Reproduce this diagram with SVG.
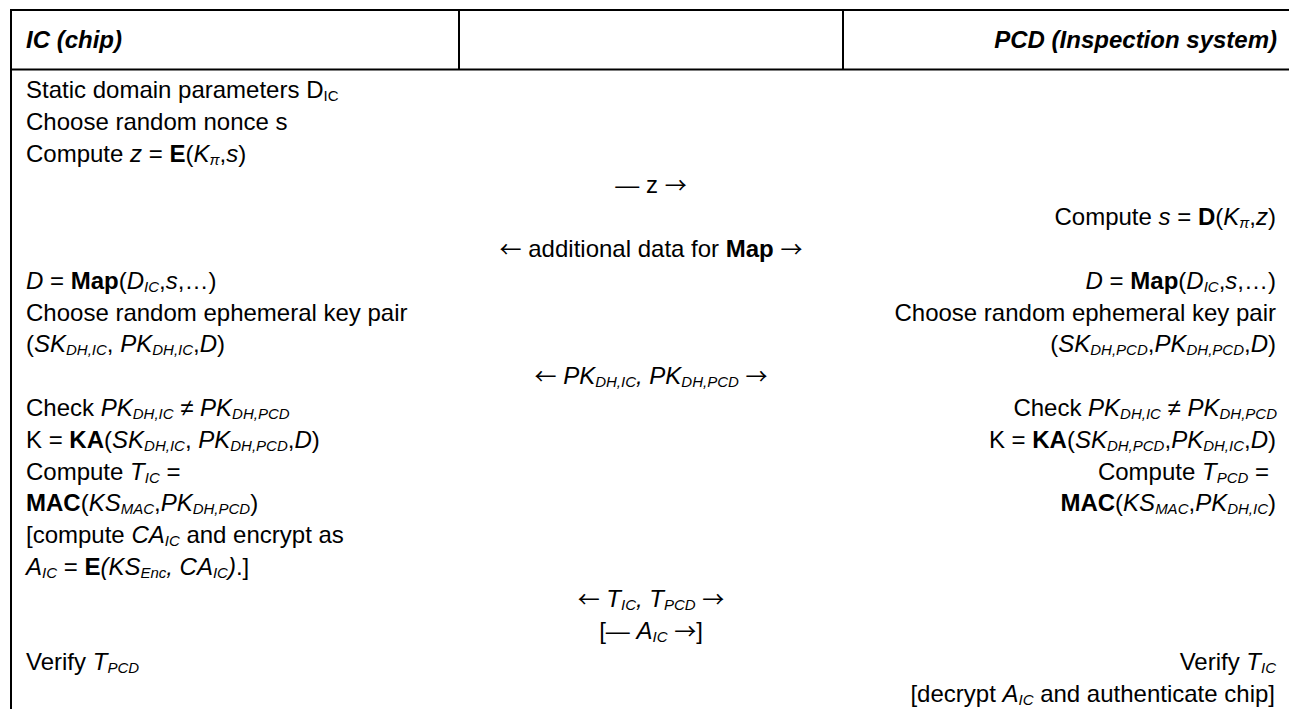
<svg xmlns="http://www.w3.org/2000/svg" width="1289" height="709" viewBox="0 0 1289 709">
<style>
text{font-family:"Liberation Sans",Arial,sans-serif;font-size:24px;fill:#000}
.h{font-weight:bold;font-style:italic}
.i{font-style:italic}
.b{font-weight:bold}
.s{font-size:15px}
.r{text-anchor:end}
.c{text-anchor:middle}
.a{font-family:"Noto Sans CJK JP","DejaVu Sans",sans-serif;font-style:normal;font-weight:normal;font-size:22px}
.ln{stroke:#000;stroke-width:2;fill:none}
</style>
<rect width="1289" height="709" fill="#fff"/>
<g id="table">
<path class="ln" d="M11 9V709M10 10H1289M10 69.5H1289M459 10V69.5M843 10V69.5"/>
</g>
<g id="header">
<text class="h" x="26" y="48">IC (chip)</text>
<text class="h r" x="1277" y="48">PCD (Inspection system)</text>
</g>
<g id="ic">
<text x="26" y="98">Static domain parameters D<tspan class="s" dy="3">IC</tspan></text>
<text x="26" y="129.8">Choose random nonce s</text>
<text x="26" y="161.6">Compute <tspan class="i">z</tspan> = <tspan class="b">E</tspan>(<tspan class="i">K</tspan><tspan class="s i" dy="3">π</tspan><tspan dy="-3">,</tspan><tspan class="i">s</tspan>)</text>
<text x="26" y="288.8"><tspan class="i">D</tspan> = <tspan class="b">Map</tspan>(<tspan class="i">D</tspan><tspan class="s i" dy="3">IC</tspan><tspan dy="-3">,</tspan><tspan class="i">s</tspan>,…)</text>
<text x="26" y="320.6">Choose random ephemeral key pair</text>
<text x="26" y="352.4">(<tspan class="i">SK</tspan><tspan class="s i" dy="3">DH,IC</tspan><tspan dy="-3">, </tspan><tspan class="i">PK</tspan><tspan class="s i" dy="3">DH,IC</tspan><tspan dy="-3">,</tspan><tspan class="i">D</tspan>)</text>
<text x="26" y="416">Check <tspan class="i">PK</tspan><tspan class="s i" dy="3">DH,IC</tspan><tspan class="i" dy="-3"> ≠ PK</tspan><tspan class="s i" dy="3">DH,PCD</tspan></text>
<text x="26" y="447.8">K = <tspan class="b">KA</tspan>(<tspan class="i">SK</tspan><tspan class="s i" dy="3">DH,IC</tspan><tspan dy="-3">, </tspan><tspan class="i">PK</tspan><tspan class="s i" dy="3">DH,PCD</tspan><tspan dy="-3">,</tspan><tspan class="i">D</tspan>)</text>
<text x="26" y="479.6">Compute <tspan class="i">T</tspan><tspan class="s i" dy="3">IC</tspan><tspan dy="-3"> =</tspan></text>
<text x="26" y="511.4"><tspan class="b">MAC</tspan>(<tspan class="i">KS</tspan><tspan class="s i" dy="3">MAC</tspan><tspan dy="-3">,</tspan><tspan class="i">PK</tspan><tspan class="s i" dy="3">DH,PCD</tspan><tspan dy="-3">)</tspan></text>
<text x="26" y="543.2">[compute <tspan class="i">CA</tspan><tspan class="s i" dy="3">IC</tspan><tspan dy="-3"> and encrypt as</tspan></text>
<text x="26" y="575"><tspan class="i">A</tspan><tspan class="s i" dy="3">IC</tspan><tspan dy="-3"> = </tspan><tspan class="b">E</tspan><tspan class="i">(KS</tspan><tspan class="s i" dy="3">Enc</tspan><tspan class="i" dy="-3">, CA</tspan><tspan class="s i" dy="3">IC</tspan><tspan class="i" dy="-3">)</tspan>.]</text>
<text x="26" y="670.4">Verify <tspan class="i">T</tspan><tspan class="s i" dy="3">PCD</tspan></text>
</g>
<g id="pcd">
<text class="r" x="1276" y="225.2">Compute <tspan class="i">s</tspan> = <tspan class="b">D</tspan>(<tspan class="i">K</tspan><tspan class="s i" dy="3">π</tspan><tspan dy="-3">,</tspan><tspan class="i">z</tspan>)</text>
<text class="r" x="1276" y="288.8"><tspan class="i">D</tspan> = <tspan class="b">Map</tspan>(<tspan class="i">D</tspan><tspan class="s i" dy="3">IC</tspan><tspan dy="-3">,</tspan><tspan class="i">s</tspan>,…)</text>
<text class="r" x="1276" y="320.6">Choose random ephemeral key pair</text>
<text class="r" x="1276" y="352.4">(<tspan class="i">SK</tspan><tspan class="s i" dy="3">DH,PCD</tspan><tspan dy="-3">,</tspan><tspan class="i">PK</tspan><tspan class="s i" dy="3">DH,PCD</tspan><tspan dy="-3">,</tspan><tspan class="i">D</tspan>)</text>
<text class="r" x="1277" y="416">Check <tspan class="i">PK</tspan><tspan class="s i" dy="3">DH,IC</tspan><tspan class="i" dy="-3"> ≠ PK</tspan><tspan class="s i" dy="3">DH,PCD</tspan></text>
<text class="r" x="1276" y="447.8">K = <tspan class="b">KA</tspan>(<tspan class="i">SK</tspan><tspan class="s i" dy="3">DH,PCD</tspan><tspan dy="-3">,</tspan><tspan class="i">PK</tspan><tspan class="s i" dy="3">DH,IC</tspan><tspan dy="-3">,</tspan><tspan class="i">D</tspan>)</text>
<text class="r" x="1269" y="479.6">Compute <tspan class="i">T</tspan><tspan class="s i" dy="3">PCD</tspan><tspan dy="-3"> =</tspan></text>
<text class="r" x="1276" y="511.4"><tspan class="b">MAC</tspan>(<tspan class="i">KS</tspan><tspan class="s i" dy="3">MAC</tspan><tspan dy="-3">,</tspan><tspan class="i">PK</tspan><tspan class="s i" dy="3">DH,IC</tspan><tspan dy="-3">)</tspan></text>
<text class="r" x="1276" y="670.4">Verify <tspan class="i">T</tspan><tspan class="s i" dy="3">IC</tspan></text>
<text class="r" x="1275" y="702.2">[decrypt <tspan class="i">A</tspan><tspan class="s i" dy="3">IC</tspan><tspan dy="-3"> and authenticate chip]</tspan></text>
</g>
<g id="connectors">
<text class="c" x="651" y="193.4">— z <tspan class="a">→</tspan></text>
<text class="c" x="651" y="257"><tspan class="a">←</tspan> additional data for <tspan class="b">Map</tspan> <tspan class="a">→</tspan></text>
<text class="c" x="651" y="384.2"><tspan class="a">←</tspan> <tspan class="i">PK</tspan><tspan class="s i" dy="3">DH,IC</tspan><tspan class="i" dy="-3">, PK</tspan><tspan class="s i" dy="3">DH,PCD</tspan><tspan dy="-3"> </tspan><tspan class="a">→</tspan></text>
<text class="c" x="651" y="606.8"><tspan class="a">←</tspan> <tspan class="i">T</tspan><tspan class="s i" dy="3">IC</tspan><tspan class="i" dy="-3">, T</tspan><tspan class="s i" dy="3">PCD</tspan><tspan dy="-3"> </tspan><tspan class="a">→</tspan></text>
<text class="c" x="651" y="638.6">[— <tspan class="i">A</tspan><tspan class="s i" dy="3">IC</tspan><tspan dy="-3"> </tspan><tspan class="a">→</tspan>]</text>
</g>
</svg>
